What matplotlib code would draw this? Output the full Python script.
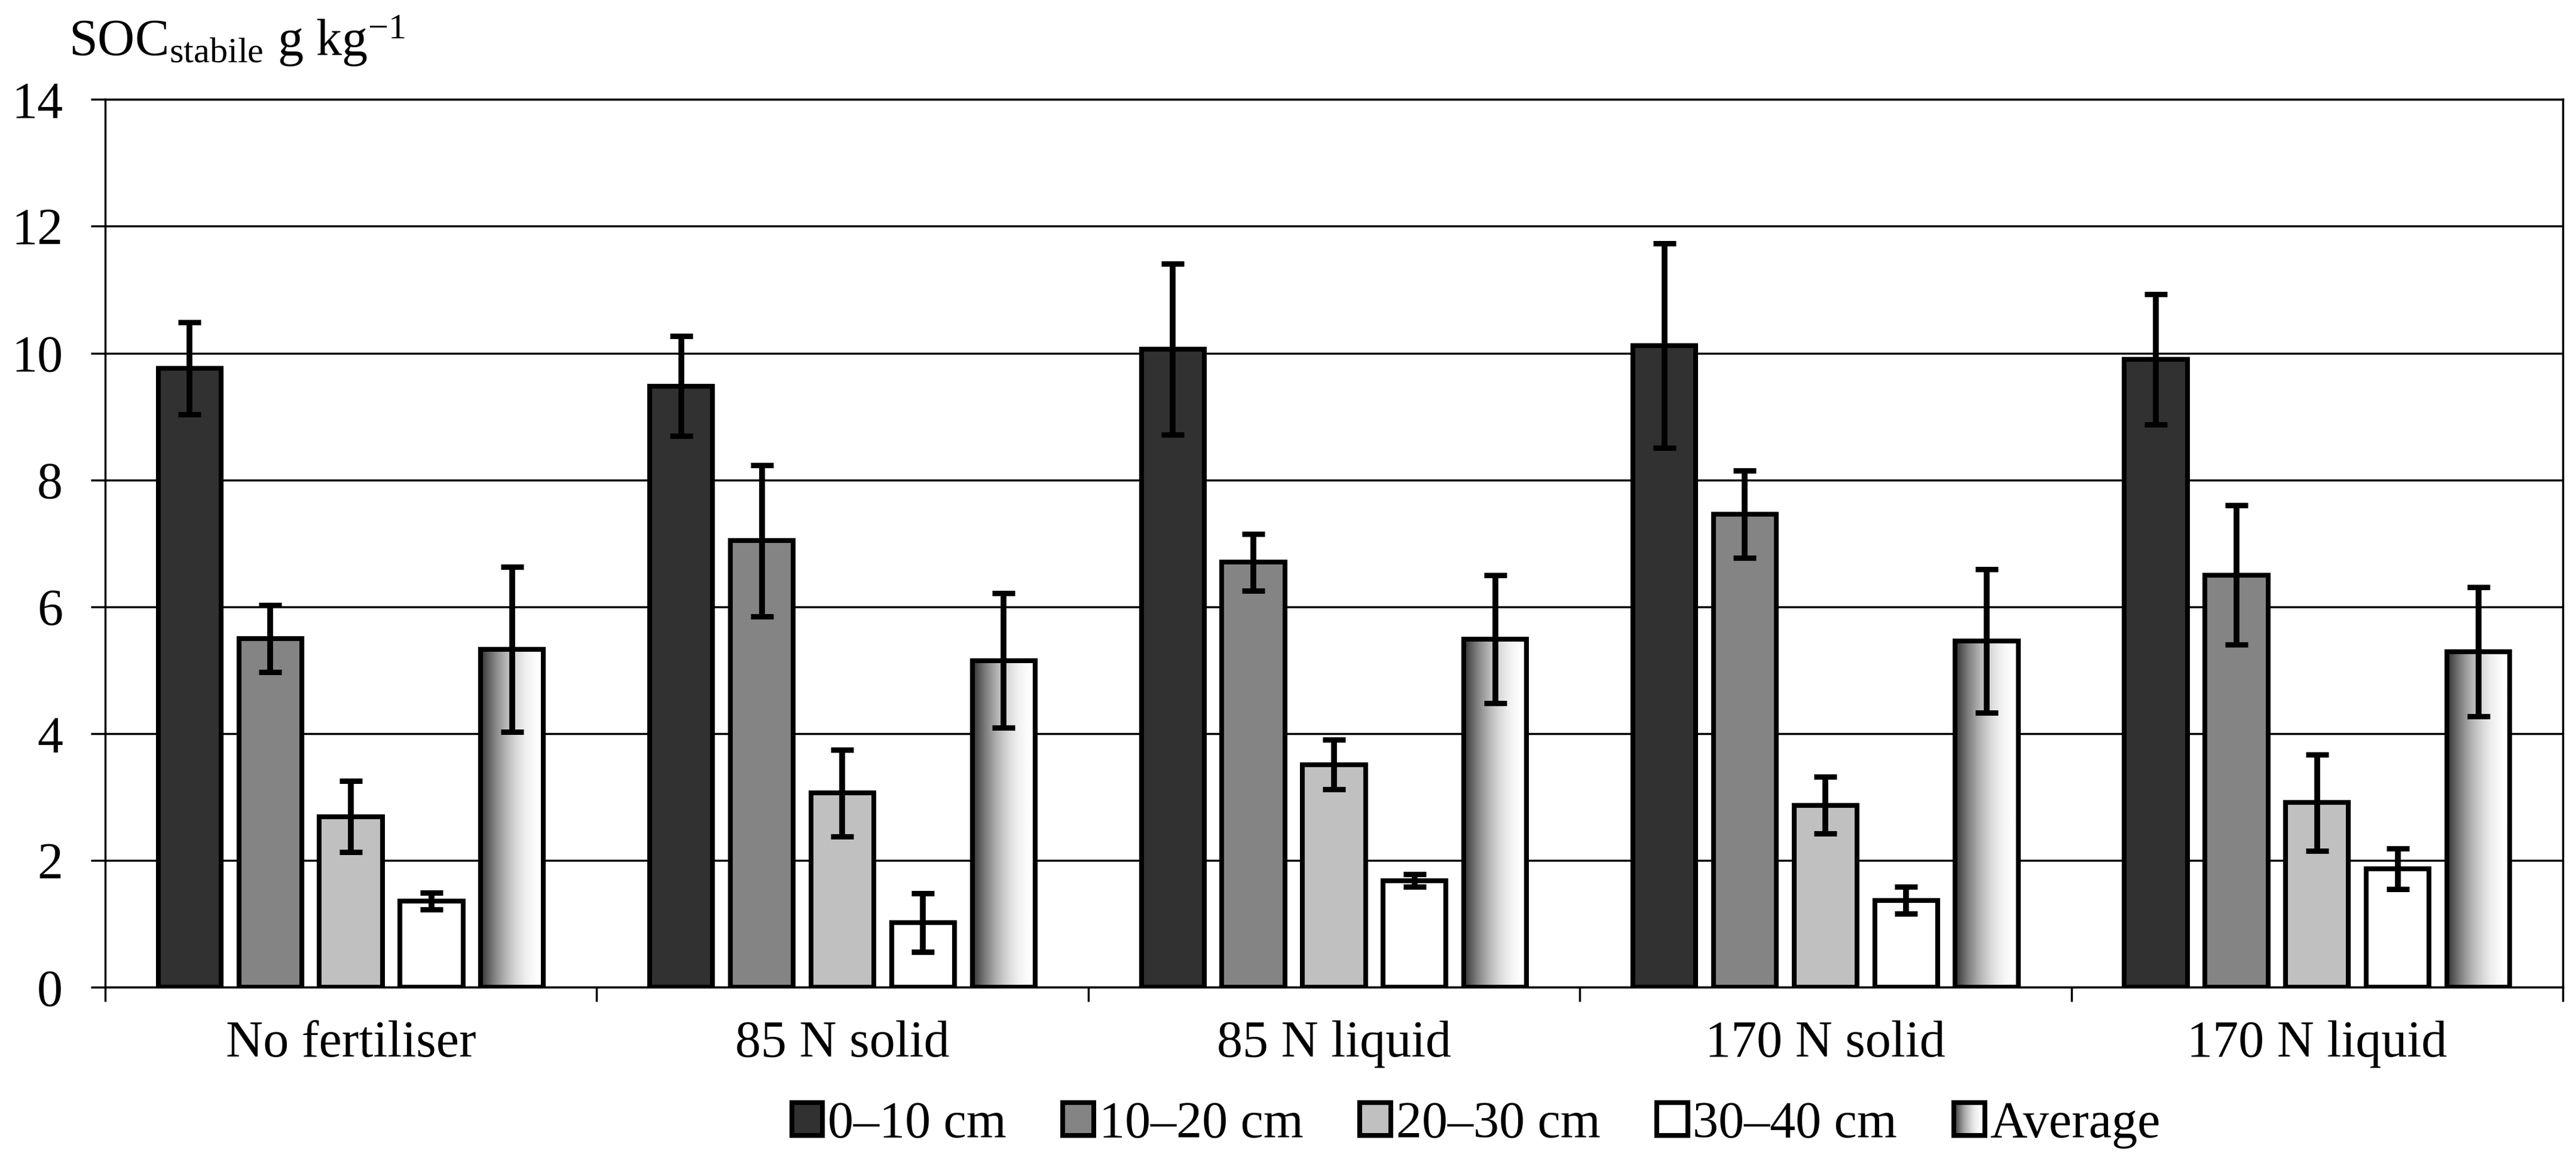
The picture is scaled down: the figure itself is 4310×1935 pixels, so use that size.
import numpy as np
import matplotlib
matplotlib.use("Agg")
import matplotlib.pyplot as plt
from matplotlib.patches import Rectangle
from matplotlib.legend_handler import HandlerBase

# data
treatments = ["No fertiliser", "85 N solid", "85 N liquid", "170 N solid", "170 N liquid"]
depths = ["0\u201310 cm", "10\u201320 cm", "20\u201330 cm", "30\u201340 cm", "Average"]
soc_0_10 = [9.76, 9.48, 10.06, 10.12, 9.90]
soc_10_20 = [5.50, 7.04, 6.70, 7.46, 6.50]
soc_20_30 = [2.69, 3.06, 3.51, 2.87, 2.91]
soc_30_40 = [1.36, 1.02, 1.68, 1.37, 1.87]
soc_avg = [5.33, 5.15, 5.49, 5.46, 5.29]
err_0_10 = [0.73, 0.79, 1.35, 1.61, 1.03]
err_10_20 = [0.53, 1.19, 0.45, 0.69, 1.10]
err_20_30 = [0.56, 0.68, 0.39, 0.45, 0.76]
err_30_40 = [0.13, 0.46, 0.10, 0.21, 0.32]
err_avg = [1.30, 1.06, 1.01, 1.13, 1.02]

values = [soc_0_10, soc_10_20, soc_20_30, soc_30_40, soc_avg]
errors = [err_0_10, err_10_20, err_20_30, err_30_40, err_avg]
colors = ["#313131", "#848484", "#c0c0c0", "#ffffff", None]

plt.rcParams["font.family"] = ["Liberation Serif", "DejaVu Serif"]
plt.rcParams["mathtext.fontset"] = "custom"
plt.rcParams["mathtext.rm"] = "Liberation Serif"
plt.rcParams["mathtext.it"] = "Liberation Serif:italic"

FS = 62
EDGE = 5.8


def shade(t):
    return 1 - 0.81 * (1 - t) ** 2


class GradientHandler(HandlerBase):
    def create_artists(self, legend, orig_handle, xdescent, ydescent,
                       width, height, fontsize, trans):
        arts = []
        n = 24
        for k in range(n):
            v = shade((k + 0.5) / n)
            arts.append(Rectangle((-xdescent + k * width / n, -ydescent), width / n, height,
                                  facecolor=str(v), edgecolor="none", transform=trans))
        arts.append(Rectangle((-xdescent, -ydescent), width, height, facecolor="none",
                              edgecolor="black", lw=EDGE, transform=trans))
        return arts


fig = plt.figure(figsize=(43.1, 19.35), dpi=100)
ax = fig.add_axes([0.0408, 0.1468, 0.9541, 0.7672])

x = np.arange(len(treatments))
bw = 0.128
pitch = 0.164
grad = shade(np.linspace(0, 1, 256)).reshape(1, -1)

handles = []
for i in range(len(depths)):
    pos = x + (i - 2) * pitch
    if colors[i] is not None:
        bars = ax.bar(pos, values[i], width=bw, color=colors[i], edgecolor="black",
                      linewidth=EDGE, zorder=2)
        handles.append(bars[0])
    else:
        bars = ax.bar(pos, values[i], width=bw, facecolor="none", edgecolor="black",
                      linewidth=EDGE, zorder=2)
        for p in bars:
            x0 = p.get_x()
            im = ax.imshow(grad, extent=[x0, x0 + p.get_width(), 0, p.get_height()],
                           aspect="auto", cmap="gray", vmin=0, vmax=1,
                           interpolation="bilinear", zorder=1.5)
            im.set_clip_path(p)
        handles.append(bars[0])
    ax.errorbar(pos, values[i], yerr=errors[i], fmt="none", ecolor="black",
                elinewidth=7, capsize=13.7, capthick=6.5, zorder=3)

ax.set_xlim(-0.5, len(treatments) - 0.5)
ax.set_ylim(0, 14)
ax.set_yticks(np.arange(0, 15, 2))
ax.yaxis.grid(True, color="black", linewidth=2.5)
ax.set_axisbelow(True)

ax.set_xticks(np.arange(-0.5, len(treatments), 1.0))
ax.set_xticklabels([])
ax.set_xticks(x, minor=True)
ax.set_xticklabels(treatments, minor=True)
ax.tick_params(axis="x", which="major", direction="out", length=17, width=2.5)
ax.tick_params(axis="x", which="minor", length=0, pad=40, labelsize=FS)
ax.tick_params(axis="y", direction="out", length=17, width=2.5, pad=34, labelsize=FS)
for s in ax.spines.values():
    s.set_linewidth(2.5)

fig.text(0.0267, 0.952, r"SOC$_{\mathrm{stabile}}$ g kg$^{-1}$", fontsize=FS, va="baseline")

leg = fig.legend(handles, depths, loc="center", bbox_to_anchor=(0.573, 0.028),
                 ncol=5, frameon=False, fontsize=FS, handlelength=0.6, handleheight=0.6,
                 handletextpad=0.1, columnspacing=1.1, borderaxespad=0,
                 handler_map={handles[-1]: GradientHandler()})

fig.savefig("out.png", dpi=100)
